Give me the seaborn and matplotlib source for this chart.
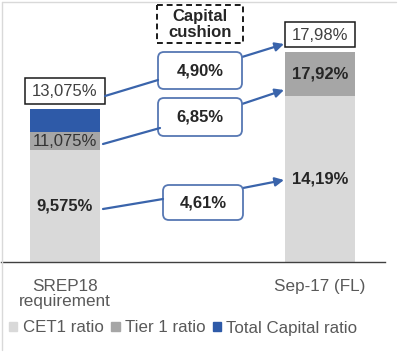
import matplotlib
matplotlib.use("Agg")
import matplotlib.pyplot as plt
import matplotlib.transforms as mtransforms
from matplotlib.patches import FancyBboxPatch, Rectangle, Patch
from matplotlib.lines import Line2D
import seaborn as sns
import pandas as pd

# ---- data ----
categories = ["SREP18\nrequirement", "Sep-17 (FL)"]
cet1 = [9.575, 14.19]
tier1 = [11.075, 17.92]
total = [13.075, 17.98]
cet1_labels = ["9,575%", "14,19%"]
tier1_labels = ["11,075%", "17,92%"]
total_labels = ["13,075%", "17,98%"]
cushion_labels = ["4,90%", "6,85%", "4,61%"]   # total, tier1, cet1
series_names = ["CET1 ratio", "Tier 1 ratio", "Total Capital ratio"]

C_CET1 = "#d9d9d9"
C_T1 = "#a6a6a6"
C_TOT = "#2e5aa8"
BLUE_LINE = "#3a64ab"
BOX_EDGE = "#5677b3"
DARK = "#262626"
GREY_TXT = "#595959"

sns.set_style("white")
plt.rcParams["font.family"] = ["Liberation Sans", "DejaVu Sans"]

W, H = 399, 352
fig = plt.figure(figsize=(W / 100, H / 100), dpi=100)
pxT = mtransforms.Affine2D().scale(1 / W, -1 / H).translate(0, 1) + fig.transFigure

ax = fig.add_axes([1 / W, 1 - 262 / H, 384 / W, 260 / H])
df = pd.DataFrame({"cat": categories, "cet1": cet1, "tier1": tier1, "total": total})
bw = 70 / 255
sns.barplot(data=df, x="cat", y="total", color=C_TOT, saturation=1, width=bw, linewidth=0, ax=ax)
sns.barplot(data=df, x="cat", y="tier1", color=C_T1, saturation=1, width=bw, linewidth=0, ax=ax)
sns.barplot(data=df, x="cat", y="cet1", color=C_CET1, saturation=1, width=bw, linewidth=0, ax=ax)

ax.set_xlim((1 - 65) / 255, (385 - 65) / 255)
ax.set_ylim(0, 260 / 11.7)
ax.set_xlabel("")
ax.set_ylabel("")
ax.set_yticks([])
for s in ["top", "left", "right"]:
    ax.spines[s].set_visible(False)
ax.spines["bottom"].set_color("#404040")
ax.spines["bottom"].set_linewidth(1.0)
ax.tick_params(axis="x", length=0, pad=12, labelsize=12.3, labelcolor=GREY_TXT)
for t in ax.get_xticklabels():
    t.set_linespacing(1.0)

# value labels inside bars
for i in range(2):
    ax.text(i, cet1[i] / 2, cet1_labels[i], ha="center", va="center",
            fontsize=12, fontweight="bold", color=DARK)
ax.text(0, (cet1[0] + tier1[0]) / 2, tier1_labels[0], ha="center", va="center",
        fontsize=12, color="#333333")
ax.text(1, (cet1[1] + tier1[1]) / 2, tier1_labels[1], ha="center", va="center",
        fontsize=12, fontweight="bold", color=DARK)

# boxed total labels
for (x0, y0, w, h), lab in zip([(25, 78, 80, 26), (285, 22, 70, 25)], total_labels):
    fig.patches.append(Rectangle((x0, y0), w, h, transform=pxT, fc="white",
                                 ec="#1a1a1a", lw=1.1))
    fig.text(x0 + w / 2, y0 + h / 2 + 0.5, lab, transform=pxT, ha="center", va="center",
             fontsize=12, color="#404040")

# capital cushion box
fig.patches.append(Rectangle((157, 5), 86, 38, transform=pxT, fc="white", ec="#1a1a1a",
                             lw=1.4, ls=(0, (3, 2))))
fig.text(200, 24.5, "Capital\ncushion", transform=pxT, ha="center", va="center",
         fontsize=12, fontweight="bold", color=DARK, linespacing=1.05)

# cushion boxes and connectors
boxes = [(158, 52, 84, 37), (158, 98, 84, 38), (163, 185, 80, 35)]
line_from = [(105, 96), (103, 144), (103, 209)]
line_to = [(158, 80), (160, 128), (163, 199)]
arr_from = [(242, 57), (242, 104), (243, 188)]
arr_to = [(284, 44), (284, 90), (284, 180)]
for (x0, y0, w, h), lab, lf, lt, af, at in zip(boxes, cushion_labels, line_from, line_to,
                                                 arr_from, arr_to):
    fig.add_artist(Line2D([lf[0], lt[0]], [lf[1], lt[1]], transform=pxT,
                          color=BLUE_LINE, lw=1.6))
    ax.annotate("", xy=at, xytext=af, xycoords=pxT, textcoords=pxT,
                arrowprops=dict(arrowstyle="-|>", color=BLUE_LINE, lw=1.6,
                                mutation_scale=13, shrinkA=0, shrinkB=0),
                annotation_clip=False)
    fig.patches.append(FancyBboxPatch((x0, y0), w, h, transform=pxT,
                                      boxstyle="round,pad=0,rounding_size=6",
                                      fc="white", ec=BOX_EDGE, lw=1.3))
    fig.text(x0 + w / 2, y0 + h / 2 + 0.5, lab, transform=pxT, ha="center", va="center",
             fontsize=12, fontweight="bold", color=DARK)

# frame lines
fig.add_artist(Line2D([2, 396], [2, 2], transform=pxT, color="#d9d9d9", lw=1))
fig.add_artist(Line2D([2, 2], [2, 350], transform=pxT, color="#d9d9d9", lw=1))

# legend
handles = [Patch(color=c) for c in (C_CET1, C_T1, C_TOT)]
fig.legend(handles, series_names, loc="center left", bbox_to_anchor=(9 / W, 1 - 328 / H),
           ncol=3, frameon=False, fontsize=12.2, labelcolor=GREY_TXT,
           handlelength=0.5, handleheight=0.5, handletextpad=0.3, columnspacing=0.45,
           borderpad=0, borderaxespad=0)

fig.savefig("out.png", dpi=100)
